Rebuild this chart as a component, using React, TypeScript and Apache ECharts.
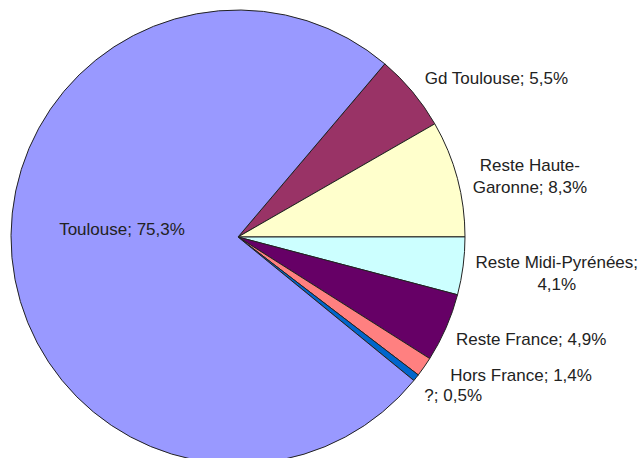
import React, { useEffect, useRef } from "react";
import * as echarts from "echarts";

const categories = [
  "Gd Toulouse",
  "Reste Haute-\nGaronne",
  "Reste Midi-Pyrénées;\n",
  "Reste France",
  "Hors France",
  "?",
  "Toulouse",
];
const labelNames = [
  "Gd Toulouse",
  "Reste Haute-|Garonne",
  "Reste Midi-Pyrénées;|",
  "Reste France",
  "Hors France",
  "?",
  "Toulouse",
];
const values = [5.5, 8.3, 4.1, 4.9, 1.4, 0.5, 75.3];
const colors = ["#993366", "#FFFFCC", "#CCFFFF", "#660066", "#FF8080", "#0066CC", "#9999FF"];

// fine label nudges [dx, dy] to mimic the original spreadsheet placement
const labelNudges: [number, number][] = [
  [-3, -8],
  [3, 0],
  [0, 6],
  [-6, 9],
  [5, 4],
  [-7, 0],
  [0, -18],
];

function fmt(v: number) {
  return v.toFixed(1).replace(".", ",") + "%";
}

export default function App() {
  const ref = useRef<HTMLDivElement>(null);
  useEffect(() => {
    if (!ref.current) return;
    const chart = echarts.init(ref.current, null, { renderer: "svg" });
    const data = values.map((v, i) => {
      const parts = labelNames[i].split("|");
      let text: string;
      if (parts.length === 1) {
        text = "{c|" + parts[0] + "; " + fmt(v) + "}";
      } else if (parts[1] === "") {
        text = "{c|" + parts[0] + "}\n{c|" + fmt(v) + "}";
      } else {
        text = "{c|" + parts[0] + "}\n{c|" + parts[1] + "; " + fmt(v) + "}";
      }
      return {
        name: categories[i],
        value: v,
        itemStyle: { color: colors[i] },
        label: i === 6 ? { position: "inside", formatter: text } : { formatter: text },
      };
    });
    chart.setOption({
      animation: false,
      series: [
        {
          type: "pie",
          center: [238, 237],
          radius: [0, 227],
          startAngle: 49.7,
          clockwise: true,
          avoidLabelOverlap: true,
          minShowLabelAngle: 0,
          itemStyle: { borderColor: "#222", borderWidth: 1 },
          label: {
            show: true,
            position: "outside",
            overflow: "none",
            edgeDistance: 0,
            bleedMargin: 0,
            color: "#222",
            fontFamily: "Liberation Sans, Arial, sans-serif",
            fontSize: 17,
            lineHeight: 22,
            rich: {
              c: {
                align: "center",
                color: "#222",
                fontFamily: "Liberation Sans, Arial, sans-serif",
                fontSize: 17,
                lineHeight: 22,
              },
            },
          },
          labelLine: { show: false, length: 8, length2: 4 },
          emphasis: { disabled: true },
          labelLayout: (params: any) => {
            const n = labelNudges[params.dataIndex];
            return { dx: n[0], dy: n[1] };
          },
          data,
        },
      ],
    });
    return () => chart.dispose();
  }, []);
  return (
    <div
      ref={ref}
      style={{ position: "fixed", left: 0, top: 0, width: 641, height: 458, background: "#fff" }}
    />
  );
}
